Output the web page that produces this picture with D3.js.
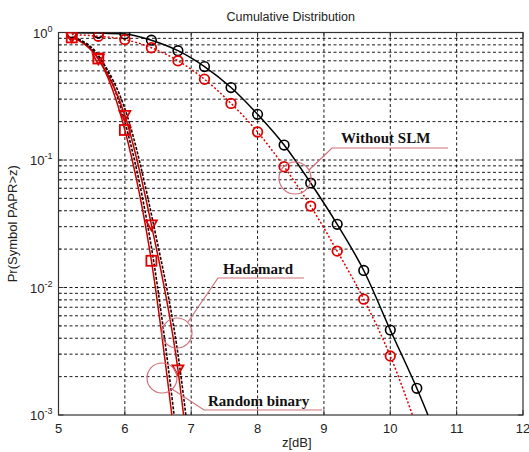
<!DOCTYPE html>
<html><head><meta charset="utf-8">
<script src="https://cdn.jsdelivr.net/npm/d3@7"></script>
<style>body{margin:0;background:#fff}svg{display:block}</style>
</head><body>
<svg id="c" width="529" height="452"></svg>
<script>
// x positions (dB)
const zNoSLM = [5.2,5.6,6.0,6.4,6.8,7.2,7.6,8.0,8.4,8.8,9.2,9.6,10.0,10.4,10.8];
const pNoSLM = [0.995,0.99,0.975,0.87,0.72,0.54,0.37,0.228,0.131,0.066,0.0313,0.0136,0.00464,0.00162,0.0005];
const zNoSLM2 = [5.2,5.6,6.0,6.4,6.8,7.2,7.6,8.0,8.4,8.8,9.2,9.6,10.0,10.4];
const pNoSLM2 = [0.965,0.935,0.88,0.76,0.60,0.43,0.278,0.166,0.0885,0.0435,0.0193,0.0081,0.0029,0.0008];
const zHad = [5.2,5.6,6.0,6.4,6.8];
const pHad = [0.915,0.625,0.172,0.0162,0.0004];
const zRand = [5.2,5.6,6.0,6.4,6.8,7.0];
const pRand = [0.925,0.62,0.224,0.031,0.00226,0.0003];
const xTicks = [5,6,7,8,9,10,11,12];
const yDecades = [-3,-2,-1,0];
const title = "Cumulative Distribution";
const xLabel = "z[dB]";
const yLabel = "Pr(Symbol PAPR>z)";
const labels = ["Without SLM","Hadamard","Random binary"];

const svg = d3.select("#c");
const L=58.5, R=523, T=32.5, B=415;
const x = d3.scaleLinear().domain([5,12]).range([L,R]);
const y = d3.scaleLog().domain([1e-3,1]).range([B,T]);

svg.append("defs").append("clipPath").attr("id","clip")
  .append("rect").attr("x",L).attr("y",T).attr("width",R-L).attr("height",B-T);

// grid
const grid = svg.append("g").attr("stroke","#000").attr("stroke-width",0.9).attr("stroke-dasharray","3,2.5");
xTicks.slice(1,-1).forEach(t=>{
  grid.append("line").attr("x1",x(t)).attr("x2",x(t)).attr("y1",T).attr("y2",B);
});
const yGrid=[];
for(let e=-3;e<0;e++){ for(let k=1;k<=9;k++){ const v=k*Math.pow(10,e); if(v>1e-3) yGrid.push(v);} }
yGrid.forEach(v=>{
  grid.append("line").attr("x1",L).attr("x2",R).attr("y1",y(v)).attr("y2",y(v));
});

// ticks
const tk = svg.append("g").attr("stroke","#333").attr("stroke-width",1);
xTicks.forEach(t=>{
  tk.append("line").attr("x1",x(t)).attr("x2",x(t)).attr("y1",B).attr("y2",B-5);
  tk.append("line").attr("x1",x(t)).attr("x2",x(t)).attr("y1",T).attr("y2",T+5);
});
yGrid.concat([1e-3,1]).forEach(v=>{
  const len = Math.abs(Math.log10(v)-Math.round(Math.log10(v)))<1e-9?5:3;
  tk.append("line").attr("x1",L).attr("x2",L+len).attr("y1",y(v)).attr("y2",y(v));
  tk.append("line").attr("x1",R).attr("x2",R-len).attr("y1",y(v)).attr("y2",y(v));
});

// frame
svg.append("rect").attr("x",L).attr("y",T).attr("width",R-L).attr("height",B-T)
  .attr("fill","none").attr("stroke","#333").attr("stroke-width",1.2);

// tick labels
const tl = svg.append("g").attr("font-family","Liberation Sans, Arial, sans-serif").attr("font-size",13).attr("fill","#222");
xTicks.forEach(t=>{
  tl.append("text").attr("x",x(t)).attr("y",433).attr("text-anchor","middle").text(t);
});
yDecades.forEach(e=>{
  const g = tl.append("text").attr("x",L-6).attr("y",y(Math.pow(10,e))+5).attr("text-anchor","end");
  g.append("tspan").text("10");
  g.append("tspan").attr("dy",-6).attr("font-size",9).text(e);
});

// title & labels
svg.append("text").attr("x",(L+R)/2).attr("y",21).attr("text-anchor","middle")
  .attr("font-family","Liberation Sans, Arial, sans-serif").attr("font-size",12.5).attr("fill","#222").text(title);
svg.append("text").attr("x",(L+R)/2+6).attr("y",447).attr("text-anchor","middle")
  .attr("font-family","Liberation Sans, Arial, sans-serif").attr("font-size",13).attr("fill","#222").text(xLabel);
svg.append("text").attr("transform",`translate(17,${(T+B)/2}) rotate(-90)`).attr("text-anchor","middle")
  .attr("font-family","Liberation Sans, Arial, sans-serif").attr("font-size",13).attr("fill","#222").text(yLabel);

const plot = svg.append("g").attr("clip-path","url(#clip)");
const line = d3.line().x(d=>x(d[0])).y(d=>y(d[1])).curve(d3.curveMonotoneX);
const zip = (a,b)=>a.map((v,i)=>[v,b[i]]);
const dNo = zip(zNoSLM,pNoSLM), dNo2 = zip(zNoSLM2,pNoSLM2), dHad = zip(zHad,pHad), dRand = zip(zRand,pRand);

// Hadamard / Random binary lines: red solid + black dashed
[dHad,dRand].forEach(d=>{
  plot.append("path").datum(d).attr("d",line).attr("fill","none").attr("stroke","#c80000").attr("stroke-width",1.5);
  plot.append("path").datum(d).attr("d",line).attr("fill","none").attr("stroke","#1a0000").attr("stroke-width",1.6)
    .attr("stroke-dasharray","3,1.5").attr("transform","translate(2.2,0)");
});
// without SLM lines
plot.append("path").datum(dNo2).attr("d",line).attr("fill","none").attr("stroke","#e00000").attr("stroke-width",1.5).attr("stroke-dasharray","2,2");
plot.append("path").datum(dNo).attr("d",line).attr("fill","none").attr("stroke","#000").attr("stroke-width",1.5);

// markers
const inRange = d=>d[1]>=1e-3;
plot.selectAll(".m1").data(dNo.filter(inRange)).enter().append("circle")
  .attr("cx",d=>x(d[0])).attr("cy",d=>y(d[1])).attr("r",4.8).attr("fill","none").attr("stroke","#000").attr("stroke-width",1.6);
plot.selectAll(".m2").data(dNo2.filter(inRange)).enter().append("circle")
  .attr("cx",d=>x(d[0])).attr("cy",d=>y(d[1])).attr("r",4.8).attr("fill","none").attr("stroke","#e00000").attr("stroke-width",1.8);
plot.selectAll(".m3").data(dHad.filter(inRange)).enter().append("rect")
  .attr("x",d=>x(d[0])-5).attr("y",d=>y(d[1])-5).attr("width",10).attr("height",10)
  .attr("fill","none").attr("stroke","#e00000").attr("stroke-width",1.8);
plot.selectAll(".m4").data(dRand.filter(inRange)).enter().append("path")
  .attr("d",d=>{const cx=x(d[0]),cy=y(d[1]);return `M${cx-5.5},${cy-4.5}L${cx+5.5},${cy-4.5}L${cx},${cy+5.5}Z`;})
  .attr("fill","none").attr("stroke","#e00000").attr("stroke-width",1.8);

// callouts
const co = svg.append("g").attr("stroke","#d0707a").attr("stroke-width",1.2).attr("fill","none");
co.append("circle").attr("cx",295).attr("cy",178).attr("r",16);
co.append("polyline").attr("points","309,170 332,148 448,148");
co.append("circle").attr("cx",177).attr("cy",333).attr("r",15);
co.append("polyline").attr("points","188,322 218,278 304,278");
co.append("circle").attr("cx",162).attr("cy",378).attr("r",15);
co.append("polyline").attr("points","172,389 204,410 322,410");

const ct = svg.append("g").attr("font-family","Liberation Serif, Times New Roman, serif").attr("font-weight","bold")
  .attr("font-size",15).attr("fill","#111");
ct.append("text").attr("x",341).attr("y",143).text(labels[0]);
ct.append("text").attr("x",223).attr("y",274).text(labels[1]);
ct.append("text").attr("x",208).attr("y",406).text(labels[2]);
</script>
</body></html>
